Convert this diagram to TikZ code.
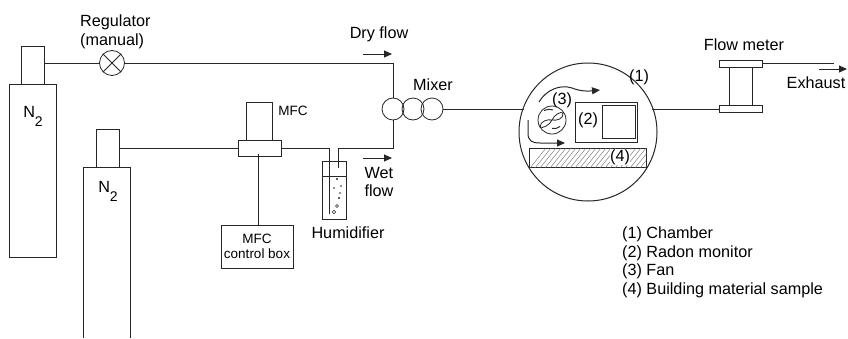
\documentclass[tikz,border=0pt]{standalone}
\usepackage{fontspec}
\setmainfont{Liberation Sans}
\usetikzlibrary{patterns,arrows.meta}

\tikzset{
	line/.style={draw=black!85, line width=0.8pt},
	flow/.style={-{Triangle[length=8pt,width=7pt]}, line width=1pt, black!85},
	lab/.style={inner sep=0pt, align=left, font=\fontsize{16.2}{18.6}\selectfont},
	smalllab/.style={inner sep=0pt, align=center, font=\fontsize{13.5}{15}\selectfont},
}
\newcommand{\nitrogen}{N\raisebox{-9pt}{\fontsize{14}{14}\selectfont 2}}

\begin{document}
\begin{tikzpicture}[x=1pt, y=-1pt]
	\useasboundingbox (0,0) rectangle (848,338);

	% Bouteilles
	\draw[line] (9,257) -- (9,84) -- (56,84) -- (56,257) -- cycle;
	\draw[line] (21,84) -- (21,46) -- (44,46) -- (44,84);
	\node[lab] (n1) at (33,116) {\nitrogen};
	\draw[line] (83,338) -- (83,167) -- (130,167) -- (130,338);
	\draw[line] (96,167) -- (96,129) -- (119,129) -- (119,167);
	\node[lab] (n2) at (108,191) {\nitrogen};

	% Regulateur
	\node[line, circle, minimum size=25pt, inner sep=0pt] (reg) at (112,63) {};
	\draw[line] (reg.45) -- (reg.225) (reg.135) -- (reg.315);
	\node[lab, anchor=west] (reglab) at (80,32) {Regulator\\(manual)};

	% Melangeur
	\node[line, circle, minimum size=22pt, inner sep=0pt] (mix1) at (393,109) {};
	\node[line, circle, minimum size=22pt, inner sep=0pt] (mix2) at (413,109) {};
	\node[line, circle, minimum size=22pt, inner sep=0pt] (mix3) at (432,109) {};
	\node[lab] (mixlab) at (433,85) {Mixer};

	% Ligne seche
	\coordinate (drycorner) at (393,63);
	\draw[line] (44,63) -- (reg) (reg) -- (drycorner) -- (mix1);
	\node[lab] (drylab) at (379,34) {Dry flow};
	\draw[flow] (363,54) -- (392,54);

	% MFC
	\draw[line] (246,102) rectangle (272,140);
	\node[line, minimum width=43pt, minimum height=16pt, inner sep=0pt] (mfc) at (259.5,148) {};
	\node[smalllab] (mfclab) at (293,111) {MFC};
	\node[line, minimum width=72pt, minimum height=43pt, smalllab] (box) at (257,246.5) {MFC\\control box};
	\draw[line] (box.north) ++(1,0) -- ++(0,-70.5);

	% Humidificateur
	\draw[line] (322,161) rectangle (346,219);
	\draw[line] (322,176) -- (346,176);
	\coordinate (wetcorner) at (393,148);
	\draw[line] (119,148) -- (mfc);
	\draw[line] (mfc) -- (329,148) -- (329,214);
	\draw[line] (338,168) -- (338,148) -- (wetcorner) -- (mix1);
	\foreach \px/\py/\pr in {337/179/1.1,341/186/0.9,334/188/0.9,340/193/0.9,339/198/1.2}
		\fill[black!85] (\px,\py) circle (\pr pt);
	\foreach \px/\py/\pr in {337/206/1.5,334/212/1.7}
		\draw[black!85, line width=0.6pt] (\px,\py) circle (\pr pt);
	\node[lab] (humlab) at (348,233) {Humidifier};
	\draw[flow] (363,158) -- (392,158);
	\node[lab] (wetlab) at (379,182) {Wet\\flow};

	% Chambre
	\node[line, circle, minimum size=138pt, inner sep=0pt, line width=1pt] (ch) at (588,132) {};
	\draw[line] (mix3.east) -- (mix3.east -| ch.158);
	\node[lab] (l1) at (639,77) {(1)};
	\draw[line] (575,102) rectangle (637,142);
	\draw[line] (602,105) rectangle (635,138);
	\node[lab] (l2) at (588,120) {(2)};
	\node[lab] (l3) at (562,100) {(3)};
	\node[draw=black!85, line width=0.6pt, minimum width=117pt, minimum height=19pt, inner sep=0pt] (sample) at (587.5,157.5) {};
	% Hachures
	\begin{scope}
		\clip (sample.south west) rectangle (sample.north east);
		\foreach \hx in {530,535,...,660}
			\draw[black!60, line width=0.4pt] (\hx,168) -- ++(16,-20);
	\end{scope}
	\node[lab, fill=white, inner sep=0.5pt] (l4) at (620,157) {(4)};

	% Ventilateur
	\node[line, circle, minimum size=28pt, inner sep=0pt] (fan) at (552,120) {};
	\draw[line] (fan.center) .. controls (548,119) and (540,121) .. (540,127) .. controls (542,129) and (550,125) .. (fan.center);
	\draw[line] (fan.center) .. controls (556,121) and (564,119) .. (563,113) .. controls (561,111) and (554,115) .. (fan.center);
	\draw[black!85, line width=1pt] (544,110.5) .. controls (547,109) and (550,109) .. (553,110);
	\draw[black!85, line width=1pt] (552,128.5) .. controls (555,129) and (558,128) .. (560,126.5);

	% Courants d'air
	\draw[flow] (539,102) .. controls (546,90) and (560,84) .. (572,88) .. controls (582,92) and (590,91) .. (600,90);
	\draw[flow] (528,120) -- (528,133) .. controls (528,141) and (532,143) .. (540,143) -- (565,143);

	% Debitmetre
	\node[line, minimum width=43pt, minimum height=7pt, inner sep=0pt] (fmtop) at (740.5,63.5) {};
	\node[line, minimum width=43pt, minimum height=7pt, inner sep=0pt] (fmbot) at (740.5,109) {};
	\draw[line] (729,67) rectangle (752,105.5);
	\node[lab] (fmlab) at (744,45) {Flow meter};
	\draw[line] (fmbot.west) -- (fmbot.west -| ch.22);
	\coordinate (exhaustend) at (834,63);
	\draw[line] (fmtop.east |- exhaustend) -- (exhaustend);
	\draw[flow] (819,69) -- (847,69);
	\node[lab] (exlab) at (816,83) {Exhaust};

	% Legende
	\node[lab, anchor=north west] (legend) at (622,226.5) {(1) Chamber\\(2) Radon monitor\\(3) Fan\\(4) Building material sample};
\end{tikzpicture}
\end{document}
